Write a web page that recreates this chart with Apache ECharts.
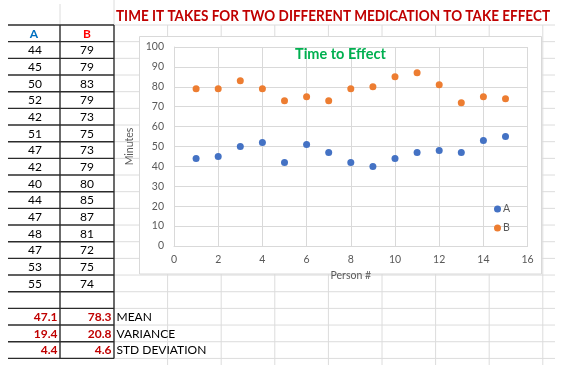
<!DOCTYPE html>
<html><head><meta charset="utf-8">
<script src="https://cdn.jsdelivr.net/npm/echarts@6/dist/echarts.min.js"></script>
<style>html,body{margin:0;padding:0;background:#fff}#c{width:579px;height:389px}</style>
</head><body><div id="c"></div>
<script>
// ---- data ----
const persons = [1,2,3,4,5,6,7,8,9,10,11,12,13,14,15];
const seriesA = [44,45,50,52,42,51,47,42,40,44,47,48,47,53,55];
const seriesB = [79,79,83,79,73,75,73,79,80,85,87,81,72,75,74];
const seriesNames = ['A','B'];
const statLabels = ['MEAN','VARIANCE','STD DEVIATION'];
const statsA = ['47.1','19.4','4.4'];
const statsB = ['78.3','20.8','4.6'];
const sheetTitle = 'TIME IT TAKES FOR TWO DIFFERENT MEDICATION TO TAKE EFFECT';
const chartTitle = 'Time to Effect';
const xName = 'Person #';
const yName = 'Minutes';

// ---- layout / style ----
const FONT = 'Lato, "Open Sans", sans-serif';
const rowH = 16.67, tableTop = 25;
const colL = 8, colMid = 60, colR = 114;
const sheetColW = 53.6, sheetRight = 555, sheetBottom = 365;
const lightGrid = '#dcdcdc';
const border = '#2b2b2b';

function measure(text, font){
  const c = document.createElement('canvas').getContext('2d');
  c.font = font; return c.measureText(text).width;
}

const g = [];
// spreadsheet light gridlines
for (let k = 0; k <= 20; k++) {
  const y = tableTop + k*rowH;
  g.push({type:'line', silent:true, z:-10, shape:{x1:colR, y1:y, x2:sheetRight, y2:y}, style:{stroke:lightGrid, lineWidth:1}});
}
for (let k = 1; k <= 8; k++) {
  const x = colR + k*sheetColW;
  g.push({type:'line', silent:true, z:-10, shape:{x1:x, y1:tableTop, x2:x, y2:sheetBottom}, style:{stroke:lightGrid, lineWidth:1}});
}
g.push({type:'line', silent:true, z:-10, shape:{x1:colMid, y1:4, x2:colMid, y2:tableTop}, style:{stroke:lightGrid, lineWidth:1}});
g.push({type:'line', silent:true, z:-10, shape:{x1:colR, y1:0, x2:colR, y2:tableTop}, style:{stroke:lightGrid, lineWidth:1}});
// chart box
g.push({type:'rect', silent:true, z:-5, shape:{x:139.5, y:36.5, width:402, height:237.5}, style:{fill:'#fff', stroke:'#d9d9d9', lineWidth:1}});
// table borders
for (let k = 0; k <= 20; k++) {
  const y = tableTop + k*rowH;
  g.push({type:'line', silent:true, z:-4, shape:{x1:colL, y1:y, x2:colR, y2:y}, style:{stroke:border, lineWidth:1.4}});
}
[colMid, colR].forEach(x => g.push({type:'line', silent:true, z:-4, shape:{x1:x, y1:tableTop, x2:x, y2:tableTop+20*rowH}, style:{stroke:border, lineWidth:1.4}}));

function txt(text, x, y, opts){
  const font = (opts.weight||'normal') + ' ' + (opts.size||12) + 'px ' + FONT;
  return {type:'text', silent:true, z:2, x:x, y:y, scaleX:opts.scaleX||1,
    style:{text:text, font:font, fill:opts.color||'#000', align:opts.align||'center', textAlign:opts.align||'center',
      verticalAlign:'middle', textVerticalAlign:'middle'}};
}
const cA = (colL+colMid)/2+1, cB = (colMid+colR)/2;
g.push(txt(seriesNames[0], cA-1, tableTop+rowH/2+0.5, {weight:'bold', color:'#0070c0'}));
g.push(txt(seriesNames[1], cB, tableTop+rowH/2+0.5, {weight:'bold', color:'#ff0000'}));
persons.forEach((p,i) => {
  const y = tableTop + (i+1)*rowH + rowH/2 + 0.5;
  g.push(txt(String(seriesA[i]), cA, y, {}));
  g.push(txt(String(seriesB[i]), cB, y, {}));
});
statLabels.forEach((lab,i) => {
  const y = tableTop + (17+i)*rowH + rowH/2 + 0.5;
  g.push(txt(statsA[i], colMid-2.5, y, {weight:'bold', color:'#c00000', align:'right'}));
  g.push(txt(statsB[i], colR-2.5, y, {weight:'bold', color:'#c00000', align:'right'}));
  g.push(txt(lab, colR+2.5, y, {align:'left', color:'#000'}));
});
// sheet title
const tFont = 'bold 15.5px ' + FONT;
const tW = measure(sheetTitle, tFont);
g.push(txt(sheetTitle, 116, 15.5, {weight:'bold', size:15.5, color:'#c00000', align:'left', scaleX: 434/tW}));

const chart = echarts.init(document.getElementById('c'), null, {renderer:'canvas'});
chart.setOption({
  animation:false,
  backgroundColor:'#fff',
  textStyle:{fontFamily:FONT},
  title:{text:chartTitle, left:295, top:47, textStyle:{fontFamily:FONT, fontSize:14.5, fontWeight:'bold', color:'#00b050'}, padding:0},
  legend:{data:seriesNames, orient:'vertical', left:494, top:203, itemWidth:7, itemHeight:7, itemGap:7, icon:'circle', padding:0,
    textStyle:{fontSize:10.5, color:'#595959', lineHeight:12, padding:[0,0,0,-3]}},
  grid:{left:174, top:47, width:353.6, height:199, containLabel:false},
  xAxis:{type:'value', min:0, max:16, interval:2, name:xName, nameLocation:'middle', nameGap:15,
    nameTextStyle:{fontSize:10.5, color:'#595959'},
    axisLine:{show:true, lineStyle:{color:'#d9d9d9'}}, axisTick:{show:false},
    axisLabel:{fontSize:10.5, color:'#595959', margin:8},
    splitLine:{show:true, lineStyle:{color:'#d9d9d9', width:1}}},
  yAxis:{type:'value', min:0, max:100, interval:10, name:yName, nameLocation:'middle', nameGap:21,
    nameTextStyle:{fontSize:10.5, color:'#595959'},
    axisLine:{show:true, lineStyle:{color:'#d9d9d9'}}, axisTick:{show:false},
    axisLabel:{fontSize:10.5, color:'#595959', margin:10},
    splitLine:{show:true, lineStyle:{color:'#d9d9d9', width:1}}},
  series:[
    {name:seriesNames[0], type:'scatter', symbol:'circle', symbolSize:7, itemStyle:{color:'#4472c4', opacity:1}, data:persons.map((p,i)=>[p, seriesA[i]])},
    {name:seriesNames[1], type:'scatter', symbol:'circle', symbolSize:7, itemStyle:{color:'#ed7d31', opacity:1}, data:persons.map((p,i)=>[p, seriesB[i]])}
  ],
  graphic:{elements:g}
});
</script></body></html>
